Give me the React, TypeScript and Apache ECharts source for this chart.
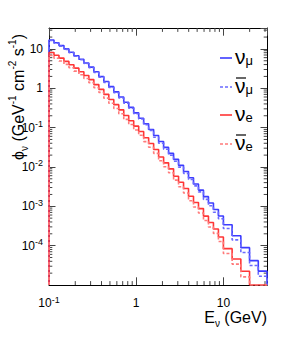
import React, { useEffect, useRef } from "react";
import * as echarts from "echarts";

// Energy bin edges (GeV)
const BIN_EDGES = [
  0.1, 0.1141, 0.1301, 0.1484, 0.1693, 0.1931, 0.2202, 0.2512, 0.2865, 0.3268,
  0.3728, 0.4252, 0.485, 0.5532, 0.631, 0.7197, 0.8209, 0.9363, 1.068, 1.218,
  1.389, 1.585, 1.808, 2.062, 2.352, 2.683, 3.06, 3.49, 3.981, 4.541,
  5.179, 5.908, 6.739, 7.687, 8.767, 10, 12.59, 15.85, 19.95, 25.12, 31.62,
];

// Fluxes (GeV^-1 cm^-2 s^-1), one value per bin
const NUMU = [
  16.82, 14.37, 12.13, 10.01, 8.25, 6.72, 5.45, 4.39, 3.45, 2.62,
  1.98, 1.48, 1.098, 0.81, 0.598, 0.441, 0.326, 0.2375, 0.1732, 0.1249,
  0.0895, 0.063, 0.0444, 0.0314, 0.0221, 0.0156, 0.01098, 0.00764, 0.00532, 0.00368,
  0.00258, 0.00176, 0.00121, 0.00083, 0.000567, 0.000341, 0.000179, 0.0000889, 0.0000416, 0.0000225,
];
const NUMUBAR = [
  16.3, 13.9, 11.8, 9.71, 8.0, 6.52, 5.29, 4.26, 3.35, 2.54,
  1.92, 1.41, 1.043, 0.77, 0.568, 0.419, 0.31, 0.226, 0.165, 0.119,
  0.085, 0.0567, 0.04, 0.0283, 0.0199, 0.014, 0.00988, 0.00688, 0.00479, 0.00331,
  0.00232, 0.0015, 0.00103, 0.000706, 0.000482, 0.000273, 0.00014, 0.0000667, 0.0000312, 0.0000167,
];
const NUE = [
  8.1, 6.92, 5.84, 4.82, 3.97, 3.24, 2.63, 2.11, 1.66, 1.24,
  0.937, 0.7, 0.52, 0.383, 0.283, 0.203, 0.15, 0.109, 0.0796, 0.0551,
  0.0395, 0.0278, 0.01795, 0.0127, 0.00894, 0.00578, 0.00407, 0.00283, 0.0018, 0.00125,
  0.000875, 0.000563, 0.000387, 0.000266, 0.000166, 0.0000839, 0.0000459, 0.0000223, 0, 0,
];
const NUEBAR = [
  6.8, 5.81, 4.91, 4.05, 3.33, 2.72, 2.21, 1.77, 1.39, 1.04,
  0.787, 0.56, 0.416, 0.306, 0.226, 0.162, 0.12, 0.0872, 0.0637, 0.0441,
  0.0316, 0.0222, 0.01436, 0.01016, 0.00715, 0.00462, 0.00313, 0.00218, 0.00139, 0.000963,
  0.000674, 0.000434, 0.000298, 0.000205, 0.000128, 0.0000629, 0.000034, 0.0000161, 0, 0,
];

const X_MIN = 0.1;
const X_MAX = 31.62;
const Y_MIN = 1e-5;
const Y_MAX = 34;

const X_MINOR = [0.2, 0.3, 0.4, 0.5, 0.6, 0.7, 0.8, 0.9, 2, 3, 4, 5, 6, 7, 8, 9, 20, 30];
const Y_MINOR_MANT = [2, 3, 4, 5, 6, 7, 8, 9];
const Y_DECADES = [1e-5, 1e-4, 1e-3, 1e-2, 1e-1, 1, 10];

const LEGEND = [
  { main: "ν", sub: "μ", bar: false, color: "#3c3cff", dash: "solid", y: 58 },
  { main: "ν", sub: "μ", bar: true, color: "#6a6aff", dash: [3, 2], y: 87 },
  { main: "ν", sub: "e", bar: false, color: "#ff3535", dash: "solid", y: 115 },
  { main: "ν", sub: "e", bar: true, color: "#ff7a7a", dash: [3, 2], y: 144 },
];

const FONT = "'Liberation Sans', Arial, Helvetica, sans-serif";

function histPoints(vals: number[]) {
  const pts: number[][] = [[BIN_EDGES[0], Y_MIN]];
  vals.forEach((v, i) => {
    const y = v > 0 ? v : Y_MIN;
    pts.push([BIN_EDGES[i], y]);
    pts.push([BIN_EDGES[i + 1], y]);
  });
  pts.push([BIN_EDGES[vals.length], Y_MIN]);
  return pts;
}

function powLabel(v: number) {
  const l = Math.log10(v);
  const e = Math.round(l);
  if (Math.abs(l - e) > 0.01) return "";
  if (e === 0) return "1";
  if (e === 1) return "10";
  return "10{sup|" + e + "}";
}

export default function App() {
  const ref = useRef<HTMLDivElement>(null);
  useEffect(() => {
    if (!ref.current) return;
    const chart = echarts.init(ref.current, null, { renderer: "svg" });
    const yMinor: number[] = [];
    Y_DECADES.forEach((d) => Y_MINOR_MANT.forEach((m) => {
      const v = d * m;
      if (v < Y_MAX) yMinor.push(v);
    }));
    const tickColor = "#444";
    const supRich = { sup: { fontSize: 9, lineHeight: 8, verticalAlign: "top", fontFamily: FONT, color: "#000" } };

    const series: any[] = [
      { name: "numu", data: histPoints(NUMU), color: "#3c3cff", type: "solid" },
      { name: "numubar", data: histPoints(NUMUBAR), color: "#6a6aff", type: [3, 2] },
      { name: "nue", data: histPoints(NUE), color: "#ff3535", type: "solid" },
      { name: "nuebar", data: histPoints(NUEBAR), color: "#ff7a7a", type: [3, 2] },
    ].map((s) => ({
      type: "line",
      name: s.name,
      data: s.data,
      symbol: "none",
      showSymbol: false,
      clip: true,
      xAxisIndex: 0,
      yAxisIndex: 0,
      lineStyle: { color: s.color, width: 1.6, type: s.type },
      silent: true,
    }));

    series.push({
      type: "custom",
      coordinateSystem: "cartesian2d",
      xAxisIndex: 0,
      yAxisIndex: 0,
      silent: true,
      clip: false,
      encode: { x: 0, y: 1 },
      data: [...X_MINOR.map((v) => [v, 1, 0]), ...yMinor.map((v) => [1, v, 1])],
      renderItem: (params: any, api: any) => {
        const kind = api.value(2);
        const st = { stroke: tickColor, lineWidth: 1 };
        if (kind === 0) {
          const v = api.value(0);
          const b = api.coord([v, Y_MIN]);
          const t = api.coord([v, Y_MAX]);
          return {
            type: "group",
            children: [
              { type: "line", shape: { x1: b[0], y1: b[1], x2: b[0], y2: b[1] - 3.9 }, style: st },
              { type: "line", shape: { x1: t[0], y1: t[1], x2: t[0], y2: t[1] + 3.9 }, style: st },
            ],
          };
        }
        const v = api.value(1);
        const l = api.coord([X_MIN, v]);
        const r = api.coord([X_MAX, v]);
        return {
          type: "group",
          children: [
            { type: "line", shape: { x1: l[0], y1: l[1], x2: l[0] + 3.3, y2: l[1] }, style: st },
            { type: "line", shape: { x1: r[0], y1: r[1], x2: r[0] - 3.3, y2: r[1] }, style: st },
          ],
        };
      },
    });

    const graphic: any[] = [];
    // y-axis title
    graphic.push({
      type: "text",
      x: 18,
      y: 97,
      rotation: Math.PI / 2,
      style: {
        text: "{a|ϕ}{sub|ν}{a| (GeV}{sup|-1}{a| cm}{sup|-2}{a| s}{sup|-1}{a|)}",
        align: "center",
        verticalAlign: "middle",
        fill: "#000",
        rich: {
          a: { fontSize: 16, lineHeight: 22, fontFamily: FONT, fill: "#000" },
          sup: { fontSize: 10, lineHeight: 10, verticalAlign: "top", fontFamily: FONT, fill: "#000" },
          sub: { fontSize: 10, lineHeight: 10, verticalAlign: "bottom", fontFamily: FONT, fill: "#000" },
        },
      },
    });
    // x-axis title
    graphic.push({
      type: "text",
      x: 267,
      y: 317,
      style: {
        text: "{a|E}{sub|ν}{a| (GeV)}",
        align: "right",
        verticalAlign: "middle",
        fill: "#000",
        rich: {
          a: { fontSize: 16, lineHeight: 22, fontFamily: FONT, fill: "#000" },
          sub: { fontSize: 10, lineHeight: 10, verticalAlign: "bottom", fontFamily: FONT, fill: "#000" },
        },
      },
    });
    // legend
    LEGEND.forEach((e) => {
      graphic.push({
        type: "line",
        shape: { x1: 220, y1: e.y, x2: 232, y2: e.y },
        style: { stroke: e.color, lineWidth: 1.6, lineDash: e.dash === "solid" ? null : e.dash },
      });
      graphic.push({
        type: "text",
        x: 235,
        y: e.y - 2,
        style: {
          text: "{n|" + e.main + "}{s|" + e.sub + "}",
          align: "left",
          verticalAlign: "middle",
          fill: "#000",
          rich: {
            n: { fontSize: 21, lineHeight: 22, fontFamily: FONT, fill: "#000" },
            s: { fontSize: 13, lineHeight: 12, verticalAlign: "bottom", fontFamily: FONT, fill: "#000" },
          },
        },
      });
      if (e.bar) {
        graphic.push({
          type: "line",
          shape: { x1: 236, y1: e.y - 9, x2: 246, y2: e.y - 9 },
          style: { stroke: "#000", lineWidth: 1.2 },
        });
      }
    });

    chart.setOption({
      animation: false,
      backgroundColor: "#fff",
      grid: { left: 49, top: 28, width: 218, height: 257, containLabel: false },
      xAxis: [
        {
          type: "log",
          logBase: 10,
          min: X_MIN,
          max: X_MAX,
          position: "bottom",
          axisLine: { show: true, onZero: false, lineStyle: { color: "#000", width: 1 } },
          axisTick: { show: true, inside: true, length: 7.7, lineStyle: { color: tickColor } },
          splitLine: { show: false },
          axisLabel: {
            show: true,
            formatter: powLabel,
            margin: 10,
            fontSize: 12,
            lineHeight: 16,
            fontFamily: FONT,
            color: "#000",
            showMaxLabel: false,
            rich: supRich,
          },
        },
        {
          type: "log",
          logBase: 10,
          min: X_MIN,
          max: X_MAX,
          position: "top",
          axisLine: { show: true, onZero: false, lineStyle: { color: "#000", width: 1 } },
          axisTick: { show: true, inside: true, length: 7.7, lineStyle: { color: tickColor } },
          splitLine: { show: false },
          axisLabel: { show: false },
        },
      ],
      yAxis: [
        {
          type: "log",
          logBase: 10,
          min: Y_MIN,
          max: Y_MAX,
          position: "left",
          axisLine: { show: true, onZero: false, lineStyle: { color: "#000", width: 1 } },
          axisTick: { show: true, inside: true, length: 6.5, lineStyle: { color: tickColor } },
          splitLine: { show: false },
          axisLabel: {
            show: true,
            formatter: powLabel,
            margin: 6,
            fontSize: 12,
            lineHeight: 16,
            fontFamily: FONT,
            color: "#000",
            showMaxLabel: false,
            showMinLabel: false,
            rich: supRich,
          },
        },
        {
          type: "log",
          logBase: 10,
          min: Y_MIN,
          max: Y_MAX,
          position: "right",
          axisLine: { show: true, onZero: false, lineStyle: { color: "#000", width: 1 } },
          axisTick: { show: true, inside: true, length: 6.5, lineStyle: { color: tickColor } },
          splitLine: { show: false },
          axisLabel: { show: false },
        },
      ],
      series,
      graphic,
    });
    return () => chart.dispose();
  }, []);
  return (
    <div
      ref={ref}
      style={{ position: "absolute", left: 0, top: 0, width: 291, height: 348, background: "#fff" }}
    />
  );
}
